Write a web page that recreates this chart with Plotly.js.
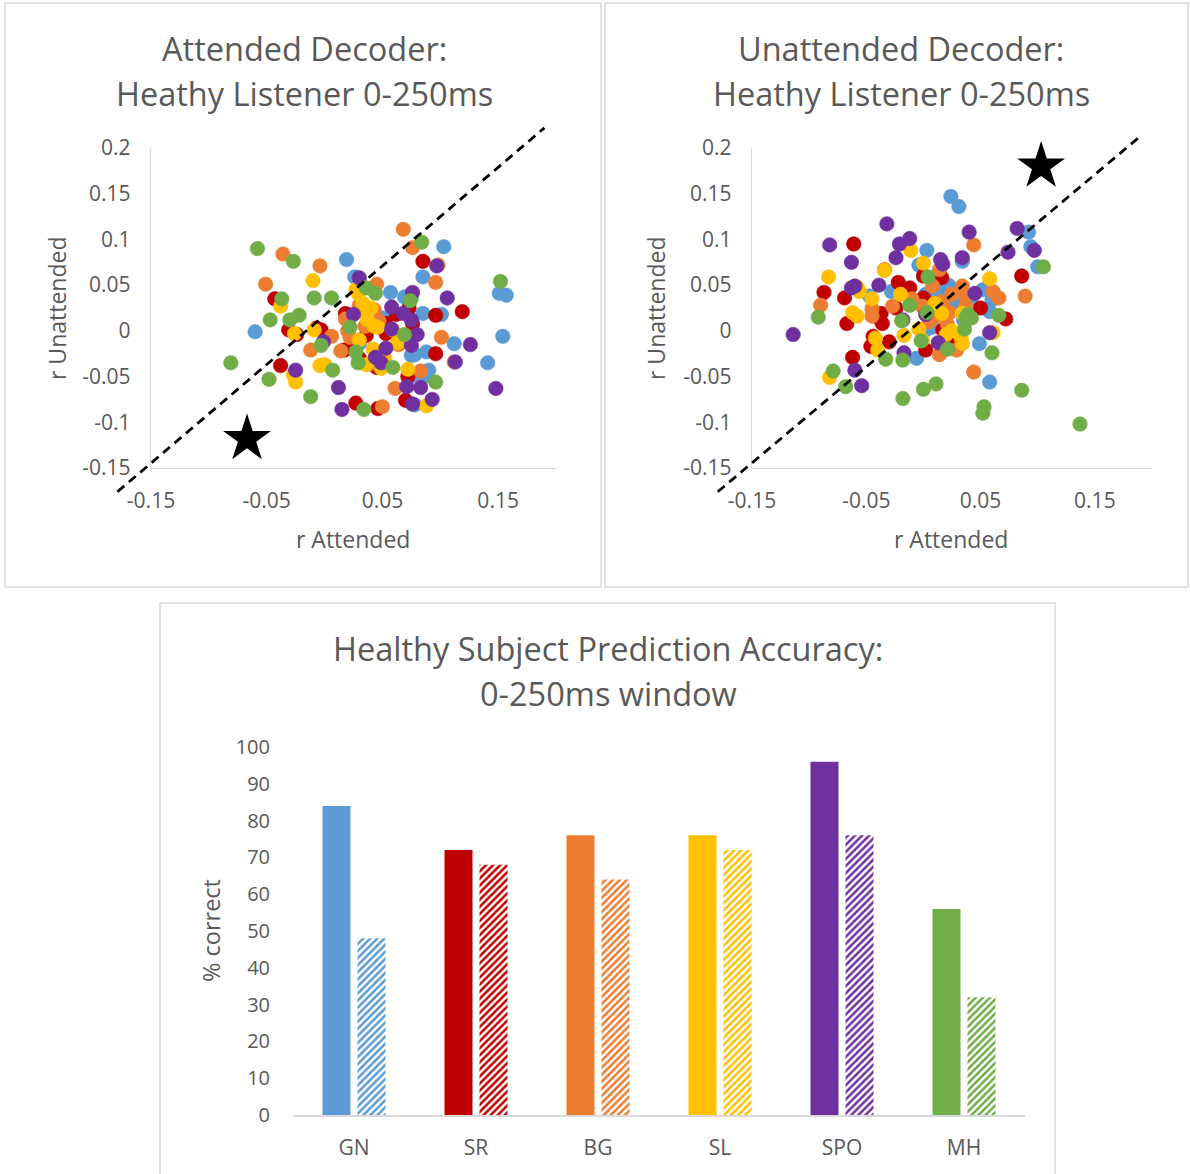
<!DOCTYPE html>
<html>
<head>
<meta charset="utf-8">
<script src="https://cdn.plot.ly/plotly-3.0.1.min.js"></script>
<style>
  html, body { margin: 0; padding: 0; background: #ffffff; }
  #chart { width: 1190px; height: 1174px; }
</style>
</head>
<body>
<div id="chart"></div>
<script>
// ---- Subjects and colours ----
const subjects = ['GN', 'SR', 'BG', 'SL', 'SPO', 'MH'];
const subjectColors = ['#5B9BD5', '#C00000', '#ED7D31', '#FFC000', '#7030A0', '#70AD47'];

// ---- Attended decoder: r Attended (x) vs r Unattended (y), 25 trials per subject ----
const attGN_x = [0.019,0.026,0.103,0.085,0.057,0.069,0.085,0.101,0.151,0.157,-0.060,0.154,0.112,0.141,0.030,0.078,0.088,0.050,0.076,0.087,0.078,0.075,0.075,0.038,0.090];
const attGN_y = [0.078,0.059,0.092,0.059,0.042,0.037,0.019,0.018,0.041,0.039,-0.001,-0.006,-0.014,-0.035,-0.014,-0.026,-0.023,0.014,-0.049,-0.050,-0.081,-0.027,0.036,0.022,-0.043];
const attSR_x = [-0.043,-0.031,-0.024,-0.007,-0.003,-0.038,0.018,0.023,0.027,0.046,0.053,0.072,0.076,0.085,0.096,0.119,0.070,0.073,0.017,0.053,0.096,0.045,0.030,0.062,0.036];
const attSR_y = [0.035,0.001,-0.004,0.003,0.001,-0.038,0.019,-0.019,-0.079,-0.085,-0.003,-0.050,0.008,0.076,0.017,0.021,-0.076,0.025,-0.021,0.008,-0.025,-0.040,-0.030,0.018,-0.005];
const attBG_x = [0.068,0.076,-0.036,-0.004,-0.051,0.045,0.096,0.098,0.006,-0.012,0.014,0.022,0.018,0.043,0.101,0.112,0.083,0.061,0.050,0.047,0.039,0.064,0.020,0.030,0.035];
const attBG_y = [0.111,0.091,0.084,0.071,0.051,0.051,0.053,0.072,-0.006,-0.021,-0.022,-0.007,0.013,0.023,-0.007,-0.034,-0.044,-0.063,-0.083,0.011,-0.036,-0.015,0.000,0.028,0.005];
const attSL_x = [-0.010,-0.038,-0.026,-0.009,-0.027,-0.025,-0.004,0.000,0.027,0.029,0.040,0.037,0.043,0.046,0.042,0.036,0.049,0.059,0.063,0.072,0.088,0.033,0.036,0.052,0.030];
const attSL_y = [0.055,0.027,-0.003,0.001,-0.048,-0.056,-0.038,-0.037,0.045,0.041,0.025,0.012,0.005,0.004,-0.020,-0.037,-0.041,0.001,-0.013,-0.042,-0.082,0.030,0.020,-0.030,-0.010];
const attSPO_x = [0.030,0.076,0.097,0.106,0.126,0.113,0.148,0.025,0.058,0.068,0.058,0.080,0.075,0.053,0.044,0.049,-0.001,-0.025,0.012,0.015,0.071,0.083,0.076,0.093,0.075];
const attSPO_y = [0.058,0.042,0.071,0.036,-0.015,-0.034,-0.063,0.018,0.026,0.019,0.002,-0.004,-0.016,-0.019,-0.029,-0.035,-0.012,-0.043,-0.062,-0.086,-0.061,-0.062,-0.080,-0.075,0.012];
const attMH_x = [-0.058,-0.027,-0.009,0.006,-0.037,-0.047,-0.022,-0.030,-0.081,-0.048,-0.012,-0.003,0.007,0.022,0.027,0.029,0.034,0.036,0.044,0.059,0.069,0.074,0.084,0.096,0.152];
const attMH_y = [0.090,0.076,0.036,0.036,0.035,0.012,0.017,0.012,-0.035,-0.053,-0.072,-0.016,-0.043,0.004,-0.023,-0.035,-0.086,0.047,0.041,-0.040,-0.004,0.033,0.097,-0.056,0.054];

// ---- Unattended decoder ----
const unaGN_x = [0.024,0.031,0.092,0.094,0.100,0.003,-0.004,0.034,-0.028,-0.047,0.014,0.030,0.029,0.052,0.058,0.049,0.058,-0.006,0.002,0.008,0.042,0.060,0.002,0.022,0.035];
const unaGN_y = [0.147,0.136,0.108,0.092,0.070,0.088,0.072,0.076,0.043,0.038,0.043,0.045,0.028,0.045,0.021,-0.014,-0.056,-0.030,0.001,0.004,0.030,0.034,0.040,0.050,0.012];
const unaSR_x = [-0.061,-0.087,-0.069,-0.067,-0.022,-0.012,-0.037,-0.036,-0.044,-0.046,-0.062,0.000,0.000,0.050,0.072,0.086,0.002,0.017,-0.024,0.016,0.020,-0.030,0.010,0.025,-0.040];
const unaSR_y = [0.095,0.042,0.036,0.008,0.053,0.047,0.019,0.008,-0.006,-0.017,-0.029,0.060,0.036,0.025,0.013,0.060,-0.021,0.001,0.025,0.058,0.020,-0.012,0.030,-0.015,0.015];
const unaBG_x = [0.044,0.089,0.044,-0.090,-0.034,-0.045,-0.045,-0.027,0.008,0.014,0.021,0.014,0.061,0.066,0.034,0.037,-0.001,0.011,0.017,0.037,0.029,0.005,0.025,0.023,-0.010];
const unaBG_y = [0.094,0.038,-0.045,0.028,0.067,0.024,0.016,0.027,0.049,0.067,0.007,-0.026,0.043,0.036,0.049,0.027,0.027,0.016,0.032,0.038,-0.021,0.010,0.040,0.020,0.035];
const unaSL_x = [-0.011,-0.034,0.000,-0.083,-0.058,-0.045,-0.062,-0.058,-0.042,-0.040,-0.017,-0.004,0.016,0.020,0.033,0.034,0.034,0.058,0.061,-0.082,-0.001,-0.056,0.010,0.025,-0.020];
const unaSL_y = [0.088,0.066,0.074,0.059,0.048,0.035,0.020,0.016,-0.008,-0.021,-0.005,0.002,0.019,-0.004,-0.008,-0.014,0.019,0.057,-0.002,-0.051,-0.010,0.043,0.030,0.000,0.040];
const unaSPO_x = [-0.032,-0.082,-0.063,-0.021,-0.012,-0.024,0.040,0.082,0.097,0.074,0.015,0.017,0.034,-0.060,-0.063,-0.039,0.045,-0.114,-0.018,0.058,0.013,-0.017,-0.060,-0.054,0.002];
const unaSPO_y = [0.117,0.094,0.075,0.095,0.101,0.080,0.108,0.112,0.088,0.086,0.078,0.073,0.080,0.049,0.047,0.050,0.041,-0.004,0.012,-0.002,-0.013,-0.024,-0.043,-0.060,0.018];
const unaMH_x = [0.105,-0.092,-0.079,-0.068,-0.033,-0.018,-0.018,0.000,0.011,-0.019,-0.012,0.004,0.003,-0.002,0.021,0.036,0.037,0.042,0.039,0.060,0.066,0.053,0.052,0.086,0.137];
const unaMH_y = [0.070,0.015,-0.044,-0.061,-0.031,-0.032,-0.074,-0.064,-0.058,0.011,0.028,0.059,0.020,-0.011,-0.020,0.002,0.014,0.014,0.018,-0.024,0.017,-0.083,-0.090,-0.065,-0.102];

// ---- Marker stars and diagonal guide lines (data units) ----
const starAtt_x = [-0.067];
const starAtt_y = [-0.118];
const starUna_x = [0.103];
const starUna_y = [0.180];
const diagAtt = {x0: -0.179, y0: -0.176, x1: 0.190, y1: 0.222};
const diagUna = {x0: -0.180, y0: -0.176, x1: 0.189, y1: 0.212};

// ---- Scatter axis ticks ----
const xTickVals = [-0.15, -0.05, 0.05, 0.15];
const xTickText = ['-0.15', '-0.05', '0.05', '0.15'];
const yTickVals = [-0.15, -0.1, -0.05, 0, 0.05, 0.1, 0.15, 0.2];
const yTickText = ['-0.15', '-0.1', '-0.05', '0', '0.05', '0.1', '0.15', '0.2'];

// ---- Prediction accuracy (% correct) ----
const accAttended = [84, 72, 76, 76, 96, 56];
const accUnattended = [48, 68, 64, 72, 76, 32];
const accTickVals = [0, 10, 20, 30, 40, 50, 60, 70, 80, 90, 100];

// ---- Geometry (pixels in a 1190 x 1174 page) ----
const W = 1190, H = 1174;
const px = v => v / W;
const py = v => 1 - v / H;

const FONT = '"Open Sans", "Liberation Sans", sans-serif';
const TXT = '#595959';
const AXIS = '#d9d9d9';

const xAttDom = [px(151), px(556)];
const xUnaDom = [px(752), px(1152)];
const yTopDom = [py(468), py(148)];
const xBarDom = [px(293), px(1025)];
const yBarDom = [py(1115), py(747)];
const scatterRange = [-0.15, 0.2];

function scatterAxis(domain, anchor, vals, text, standoff) {
  return {
    domain: domain, anchor: anchor, range: scatterRange,
    tickmode: 'array', tickvals: vals, ticktext: text,
    showgrid: false, zeroline: false, showline: true,
    linecolor: AXIS, linewidth: 1.3, ticks: '',
    ticklabelstandoff: standoff,
    tickfont: {family: FONT, size: 21, color: TXT}
  };
}

const attX = [attGN_x, attSR_x, attBG_x, attSL_x, attSPO_x, attMH_x];
const attY = [attGN_y, attSR_y, attBG_y, attSL_y, attSPO_y, attMH_y];
const unaX = [unaGN_x, unaSR_x, unaBG_x, unaSL_x, unaSPO_x, unaMH_x];
const unaY = [unaGN_y, unaSR_y, unaBG_y, unaSL_y, unaSPO_y, unaMH_y];

const traces = [];
subjects.forEach((s, i) => {
  traces.push({
    type: 'scatter', mode: 'markers', name: s, x: attX[i], y: attY[i],
    xaxis: 'x', yaxis: 'y',
    marker: {size: 14.5, color: subjectColors[i], line: {width: 0.6, color: subjectColors[i]}},
    hoverinfo: 'x+y+name'
  });
});
subjects.forEach((s, i) => {
  traces.push({
    type: 'scatter', mode: 'markers', name: s, x: unaX[i], y: unaY[i],
    xaxis: 'x2', yaxis: 'y2',
    marker: {size: 14.5, color: subjectColors[i], line: {width: 0.6, color: subjectColors[i]}},
    hoverinfo: 'x+y+name'
  });
});
traces.push({
  type: 'scatter', mode: 'markers', x: starAtt_x, y: starAtt_y, xaxis: 'x', yaxis: 'y',
  marker: {symbol: 'star', size: 36, color: '#000000'}, cliponaxis: false, hoverinfo: 'skip'
});
traces.push({
  type: 'scatter', mode: 'markers', x: starUna_x, y: starUna_y, xaxis: 'x2', yaxis: 'y2',
  marker: {symbol: 'star', size: 36, color: '#000000'}, cliponaxis: false, hoverinfo: 'skip'
});

// Bars: solid = attended decoder, hatched = unattended decoder
traces.push({
  type: 'bar', name: 'Attended', x: subjects, y: accAttended,
  xaxis: 'x3', yaxis: 'y3',
  marker: {color: subjectColors, line: {width: 0}}
});
traces.push({
  type: 'bar', name: 'Unattended', x: subjects, y: accUnattended,
  xaxis: 'x3', yaxis: 'y3',
  marker: {
    color: subjectColors, line: {width: 0},
    pattern: {shape: '/', fgcolor: subjectColors, bgcolor: '#ffffff', size: 5, solidity: 0.5, fillmode: 'replace'}
  }
});

// Convert a data point on a scatter subplot into paper coordinates
function toPaper(xd, yd, xDom) {
  const fx = (xd - scatterRange[0]) / (scatterRange[1] - scatterRange[0]);
  const fy = (yd - scatterRange[0]) / (scatterRange[1] - scatterRange[0]);
  return [xDom[0] + fx * (xDom[1] - xDom[0]), yTopDom[0] + fy * (yTopDom[1] - yTopDom[0])];
}
function diagShape(d, xDom) {
  const a = toPaper(d.x0, d.y0, xDom), b = toPaper(d.x1, d.y1, xDom);
  return {type: 'line', xref: 'paper', yref: 'paper', x0: a[0], y0: a[1], x1: b[0], y1: b[1],
          line: {color: '#000000', width: 2.8, dash: '9px,6px'}, layer: 'above'};
}
function panel(x0, y0, x1, y1) {
  return {type: 'rect', xref: 'paper', yref: 'paper', x0: px(x0), y0: py(y1), x1: px(x1), y1: py(y0),
          line: {color: AXIS, width: 1.5}, fillcolor: 'rgba(0,0,0,0)', layer: 'below'};
}

function label(text, x, y, size, angle) {
  return {text: text, xref: 'paper', yref: 'paper', x: px(x), y: py(y),
          xanchor: 'center', yanchor: 'middle', showarrow: false, textangle: angle || 0,
          font: {family: FONT, size: size, color: TXT}};
}

const layout = {
  width: W, height: H,
  margin: {l: 0, r: 0, t: 0, b: 0},
  paper_bgcolor: '#ffffff', plot_bgcolor: 'rgba(0,0,0,0)',
  showlegend: false,
  bargap: 0.426, bargroupgap: 0.2, barmode: 'group',
  xaxis: scatterAxis(xAttDom, 'y', xTickVals, xTickText, 13),
  yaxis: scatterAxis(yTopDom, 'x', yTickVals, yTickText, 15),
  xaxis2: scatterAxis(xUnaDom, 'y2', xTickVals, xTickText, 13),
  yaxis2: scatterAxis(yTopDom, 'x2', yTickVals, yTickText, 15),
  xaxis3: {
    domain: xBarDom, anchor: 'y3', showgrid: false, zeroline: false, showline: true,
    linecolor: AXIS, linewidth: 1.5, ticks: '', ticklabelstandoff: 13,
    tickfont: {family: FONT, size: 21, color: TXT}
  },
  yaxis3: {
    domain: yBarDom, anchor: 'x3', range: [0, 100], tickmode: 'array', tickvals: accTickVals,
    showgrid: false, zeroline: false, showline: false, ticks: '', ticklabelstandoff: 22,
    tickfont: {family: FONT, size: 20, color: TXT}
  },
  shapes: [
    panel(5, 3, 601, 587),
    panel(605, 3, 1188, 587),
    panel(160, 603, 1055, 1180),
    diagShape(diagAtt, xAttDom),
    diagShape(diagUna, xUnaDom)
  ],
  annotations: [
    label('Attended Decoder:', 304, 48, 32.5),
    label('Heathy Listener 0-250ms', 304, 93, 32.5),
    label('Unattended Decoder:', 901, 48, 32.5),
    label('Heathy Listener 0-250ms', 901, 93, 32.5),
    label('r Attended', 353, 539, 23),
    label('r Unattended', 57, 308, 23, -90),
    label('r Attended', 951, 539, 23),
    label('r Unattended', 656, 308, 23, -90),
    label('Healthy Subject Prediction Accuracy:', 608, 648, 32.5),
    label('0-250ms window', 608, 693, 32.5),
    label('% correct', 211, 931, 23.5, -90)
  ]
};

Plotly.newPlot('chart', traces, layout, {displayModeBar: false, staticPlot: true});
</script>
</body>
</html>
